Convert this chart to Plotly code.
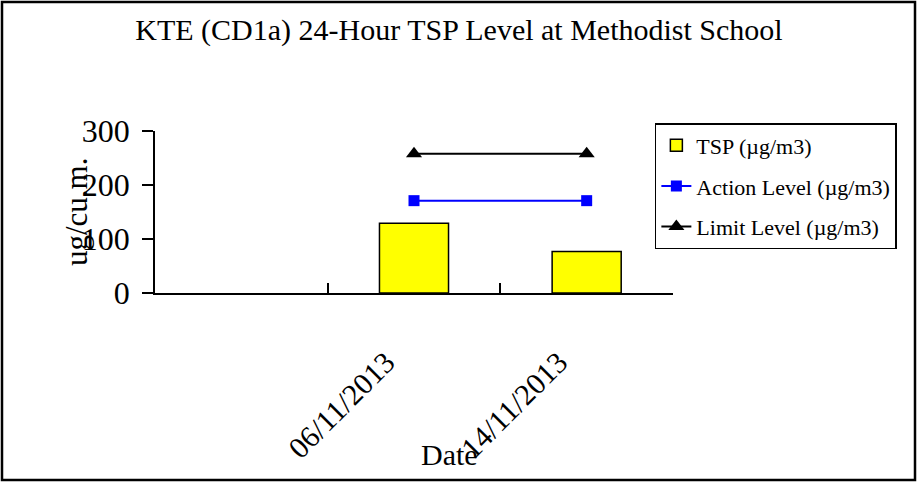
import plotly.graph_objects as go

categories = [" ", "06/11/2013", "14/11/2013"]
dates = ["06/11/2013", "14/11/2013"]
tsp = [129, 77]
action_level = [171, 171]
limit_level = [258, 258]
y_ticks = [0, 100, 200, 300]

FONT = "Liberation Serif"

fig = go.Figure()
fig.add_trace(go.Bar(
    x=dates, y=tsp, name="TSP (µg/m3)", legendgroup="a",
    width=0.4, marker=dict(color="#FFFF00", line=dict(color="black", width=1.5)),
))
fig.add_trace(go.Scatter(
    x=dates, y=action_level, name="Action Level (µg/m3)", legendgroup="b",
    mode="lines+markers", line=dict(color="#0000FF", width=2),
    marker=dict(symbol="square", size=11, color="#0000FF"),
))
fig.add_trace(go.Scatter(
    x=dates, y=limit_level, name="Limit Level (µg/m3)", legendgroup="c",
    mode="lines+markers", line=dict(color="black", width=2),
    marker=dict(symbol="triangle-up", size=14, color="black"),
))

# plot area: x 155..673, y 131..293 in a 918x486 figure
fig.update_layout(
    width=918, height=486,
    margin=dict(l=155, r=245, t=131, b=193, autoexpand=False),
    paper_bgcolor="white", plot_bgcolor="white",
    font=dict(family=FONT, color="black"),
    title=dict(text="KTE (CD1a) 24-Hour TSP Level at Methodist School",
               x=0.5, xanchor="center", y=1 - 29 / 486, yanchor="middle",
               font=dict(size=30, family=FONT, color="black")),
    showlegend=True,
    legend=dict(x=0.965, y=1.049, xanchor="left", yanchor="top",
                bordercolor="black", borderwidth=1.5, bgcolor="white",
                font=dict(size=22, family=FONT, color="black"),
                tracegroupgap=9, traceorder="grouped"),
    xaxis=dict(type="category", categoryorder="array", categoryarray=categories,
               range=[-0.5, 2.5], tickson="boundaries", ticks="inside", ticklen=10,
               tickwidth=1.5, tickcolor="black", showline=True, linecolor="black",
               linewidth=1.5, showgrid=False, zeroline=False, tickangle=-45,
               tickfont=dict(size=30, family=FONT, color="black"),
               ticklabelstandoff=38, ticklabelshift=-28, fixedrange=True),
    yaxis=dict(range=[0, 300], tickvals=y_ticks, ticks="outside", ticklen=11,
               tickwidth=1.5, tickcolor="black", showline=True, linecolor="black",
               linewidth=1.5, showgrid=False, zeroline=False, ticklabelstandoff=6,
               tickfont=dict(size=32, family=FONT, color="black"), fixedrange=True),
    yaxis2=dict(range=[0, 300], tickvals=y_ticks, overlaying="y", side="left",
                ticks="inside", ticklen=10, tickwidth=1.5, tickcolor="black",
                showticklabels=False, showline=False, showgrid=False, zeroline=False,
                fixedrange=True),
    bargap=0.6,
)

fig.add_annotation(text="ug/cu.m.", xref="paper", yref="paper",
                   x=(76 - 155) / 518, y=0.5, xanchor="center", yanchor="middle",
                   textangle=-90, showarrow=False,
                   font=dict(size=31, family=FONT, color="black"))
fig.add_annotation(text="Date", xref="paper", yref="paper",
                   x=(449 - 155) / 518, y=(293 - 454) / 162,
                   xanchor="center", yanchor="middle", showarrow=False,
                   font=dict(size=30, family=FONT, color="black"))

# outer border of the chart
fig.add_shape(type="rect", xref="paper", yref="paper",
              x0=(2 - 155) / 518, x1=(915 - 155) / 518,
              y0=(293 - 480) / 162, y1=(293 - 2) / 162,
              line=dict(color="black", width=2.5), fillcolor="rgba(0,0,0,0)",
              layer="above")

fig.write_html("out.html", config={"displayModeBar": False},
               post_script="document.body.style.margin='0';document.body.style.overflow='hidden';")
